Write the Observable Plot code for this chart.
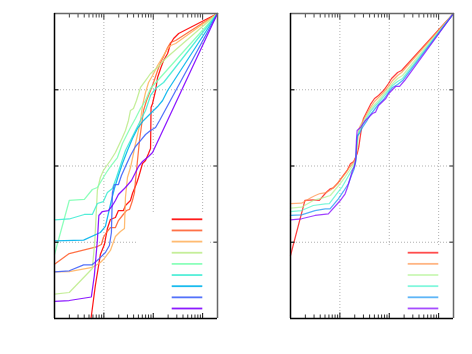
<!DOCTYPE html>
<html><head><meta charset="utf-8">
<script src="https://cdn.jsdelivr.net/npm/d3@7"></script>
<script src="https://cdn.jsdelivr.net/npm/@observablehq/plot@0.6"></script>
<style>
body{margin:0;background:#fff;font-family:"DejaVu Sans",sans-serif;}
#wrap{position:relative;width:472px;height:354px;overflow:hidden;}
.panel{position:absolute;top:0;}
.legend{position:absolute;background:#fff;}
</style></head><body><div id="wrap"></div>
<script>
// ---- data (x on log scale, y linear) ----
const xDomain = [1, 2000];
const yDomain = [0, 4];
const majorX = [10, 100, 1000];
const minorX = [2,3,4,5,6,7,8,9,20,30,40,50,60,70,80,90,200,300,400,500,600,700,800,900];
const yTicks = [1, 2, 3];

const leftColors = ["#ff0000","#ff6232","#ffb462","#bfec8e","#80ffb4","#40ecd4","#00b4ec","#4062fa","#8000ff"];
const rightColors = ["#ff0000","#ff964f","#b3f396","#4df3ce","#1a96f3","#8000ff"];

const leftRed = [[5.49,0],[6.72,0.433],[8.49,0.839],[10.24,0.970],[11.78,1.180],[13.56,1.298],[17.13,1.325],[19.71,1.416],[24.91,1.416],[27.35,1.482],[34.56,1.548],[37.95,1.639],[45.78,1.770],[50.26,1.849],[55.2,1.941],[60.61,2.033],[69.75,2.072],[80.26,2.164],[88.13,2.230],[90.22,2.767],[96.79,2.820],[111.4,2.990],[122.3,3.161],[140.8,3.279],[162,3.384],[195.3,3.475],[224.7,3.607],[258.6,3.672],[326.8,3.738],[2000,4]];
const leftTomato = [[1,0.712],[1.99,0.852],[7.38,0.944],[8.90,0.970],[9.77,1.062],[11.24,1.128],[13.56,1.193],[17.13,1.193],[19.71,1.285],[23.77,1.351],[28.66,1.416],[32.98,1.430],[37.95,1.548],[41.68,1.652],[43.67,1.810],[47.97,2.072],[52.67,2.334],[57.84,2.531],[63.51,2.728],[73.09,2.859],[88.13,2.990],[101.4,3.095],[122.3,3.252],[140.8,3.357],[162,3.436],[195.3,3.554],[224.7,3.620],[284,3.646],[2000,4]];
const leftOrange = [[1,0.612],[1.99,0.616],[5.84,0.669],[8.49,0.734],[10.24,0.787],[13.56,0.892],[17.13,1.075],[21.64,1.141],[26.10,1.180],[27.35,1.587],[30.03,1.849],[34.56,1.980],[39.77,2.164],[43.67,2.295],[50.26,2.466],[55.2,2.597],[60.61,2.793],[69.75,2.964],[80.26,3.095],[96.79,3.187],[122.3,3.318],[140.8,3.384],[195.3,3.541],[224.7,3.580],[284,3.607],[2000,4]];
const leftPaleGreen = [[1,0.319],[1.99,0.341],[5.84,0.656],[6.56,1.023],[7.38,1.679],[8.49,1.849],[9.77,1.941],[13.56,2.072],[17.13,2.177],[23.77,2.374],[27.35,2.466],[31.47,2.597],[34.56,2.728],[39.77,2.754],[45.78,2.859],[55.2,3.030],[69.75,3.121],[88.13,3.213],[122.3,3.292],[177.8,3.410],[2000,4]];
const leftMint = [[1,0.839],[1.99,1.548],[4.02,1.561],[5.84,1.692],[7.38,1.718],[9.77,1.849],[11.24,1.915],[13.56,1.993],[18.81,2.111],[23.77,2.295],[30.03,2.426],[34.56,2.505],[43.67,2.623],[55.2,2.754],[69.75,2.859],[88.13,3.016],[2000,4]];
const leftAqua = [[1,1.294],[1.99,1.305],[4.02,1.364],[5.84,1.364],[7.38,1.508],[9.77,1.534],[11.78,1.652],[14.89,1.705],[17.95,1.849],[21.64,2.007],[27.35,2.203],[34.56,2.334],[43.67,2.466],[55.2,2.597],[69.75,2.728],[88.13,2.925],[111.4,3.016],[162,3.095],[2000,4]];
const leftSky = [[1,1.019],[3.89,1.027],[8.49,1.128],[10.73,1.207],[12.35,1.377],[14.21,1.548],[16.35,1.705],[19.71,1.875],[23.77,2.033],[30.03,2.203],[37.95,2.361],[47.97,2.492],[63.51,2.597],[88.13,2.689],[122.3,2.780],[154.5,2.859],[195.3,2.990],[2000,4]];
const leftBlue = [[1,0.612],[1.99,0.626],[3.89,0.704],[5.76,0.704],[7.84,0.778],[10.73,0.866],[12.94,0.957],[14.21,1.128],[14.89,1.652],[16.35,1.757],[19.71,1.757],[22.68,1.875],[27.35,1.993],[34.56,2.138],[43.67,2.256],[55.2,2.334],[69.75,2.413],[88.13,2.466],[111.4,2.505],[134.3,2.597],[2000,4]];
const leftPurple = [[1,0.223],[1.99,0.236],[5.57,0.282],[6.41,0.564],[7.38,1.023],[7.91,1.351],[9.32,1.403],[12.35,1.416],[14.89,1.482],[17.13,1.548],[19.71,1.626],[23.77,1.679],[27.35,1.718],[36.22,1.810],[43.67,1.915],[50.26,1.993],[60.61,2.059],[80.26,2.125],[96.79,2.177],[2000,4]];

const rightRed = [[1,0.826],[1.96,1.548],[2.89,1.557],[3.83,1.548],[5.32,1.656],[6.41,1.701],[7.38,1.714],[9.32,1.784],[11.08,1.853],[14.01,1.941],[16.35,2.029],[19.08,2.059],[22.37,2.160],[24.11,2.247],[27.35,2.492],[30.03,2.623],[34.56,2.702],[41.68,2.807],[50.26,2.885],[60.61,2.925],[76.58,2.990],[96.79,3.082],[111.4,3.148],[147.5,3.226],[177.8,3.252],[2000,4]];
const rightOrange = [[1,1.508],[1.674,1.512],[2.634,1.587],[3.177,1.613],[3.96,1.639],[5.316,1.652],[6.72,1.692],[8.49,1.757],[10.24,1.823],[12.94,1.902],[15.60,1.980],[18.37,2.033],[20.65,2.098],[22.16,2.203],[23.22,2.400],[24.91,2.505],[28.66,2.584],[34.56,2.675],[41.68,2.767],[50.26,2.846],[60.61,2.898],[76.58,2.964],[96.79,3.043],[116.7,3.121],[147.5,3.187],[177.8,3.226],[2000,4]];
const rightPaleGreen = [[1,1.447],[1.674,1.460],[2.893,1.548],[5.05,1.591],[6.41,1.613],[10.09,1.767],[12.94,1.862],[15.60,1.941],[18.37,2.007],[20.65,2.072],[22.16,2.230],[23.22,2.400],[24.91,2.479],[28.66,2.557],[34.56,2.649],[41.68,2.741],[50.26,2.807],[60.61,2.859],[76.58,2.938],[96.79,3.016],[116.7,3.082],[147.5,3.148],[186.3,3.187],[2000,4]];
const rightAqua = [[1,1.403],[1.674,1.416],[2.893,1.482],[5.074,1.504],[6.117,1.508],[8.61,1.635],[11.24,1.731],[13.56,1.823],[16.35,1.915],[18.81,1.980],[20.65,2.046],[21.64,2.230],[22.68,2.387],[24.91,2.452],[28.66,2.531],[34.56,2.623],[41.68,2.715],[50.26,2.780],[60.61,2.833],[76.58,2.911],[96.79,2.990],[116.7,3.056],[147.5,3.108],[186.3,3.148],[2000,4]];
const rightSky = [[1,1.351],[1.674,1.360],[3.133,1.416],[5.05,1.439],[6.322,1.439],[9.32,1.570],[11.78,1.666],[14.89,1.767],[17.13,1.875],[19.26,1.954],[21.14,2.072],[21.64,2.269],[22.68,2.400],[24.91,2.426],[28.66,2.505],[34.56,2.584],[41.68,2.675],[50.26,2.741],[60.61,2.807],[76.58,2.872],[96.79,2.964],[116.7,3.030],[147.5,3.069],[186.3,3.121],[2000,4]];
const rightPurple = [[1,1.294],[1.674,1.308],[3.133,1.351],[5.838,1.373],[10.09,1.544],[12.76,1.635],[14.21,1.718],[16.35,1.849],[17.95,1.941],[19.71,1.993],[21.14,2.111],[21.64,2.334],[22.37,2.466],[26.10,2.505],[32.98,2.597],[37.95,2.636],[45.78,2.689],[52.67,2.706],[60.61,2.793],[84.14,2.881],[96.79,2.947],[116.7,3.003],[134.3,3.043],[162,3.043],[204.6,3.121],[2000,4]];

const leftSeries = [leftRed, leftTomato, leftOrange, leftPaleGreen, leftMint, leftAqua, leftSky, leftBlue, leftPurple];
const rightSeries = [rightRed, rightOrange, rightPaleGreen, rightAqua, rightSky, rightPurple];

// ---- drawing ----
function panel(series, colors, opacity) {
  const grid = {stroke: "#a8a8a8", strokeOpacity: 1, strokeWidth: 0.9, strokeDasharray: "1,2"};
  return Plot.plot({
    width: 236, height: 354,
    marginLeft: 54, marginRight: 19, marginTop: 13, marginBottom: 36,
    x: {type: "log", domain: xDomain},
    y: {domain: yDomain},
    marks: [
      Plot.gridX(majorX, grid),
      Plot.gridY(yTicks, grid),
      ...series.map((s, i) => Plot.line(s, {x: d => d[0], y: d => d[1], stroke: colors[i], strokeWidth: 1.25, strokeOpacity: opacity})),
      Plot.axisX({anchor: "bottom", ticks: minorX, tickSize: -3.5, tickFormat: () => "", label: null, stroke: "#333"}),
      Plot.axisX({anchor: "top", ticks: minorX, tickSize: -3.5, tickFormat: () => "", label: null, stroke: "#444"}),
      Plot.axisX({anchor: "bottom", ticks: majorX, tickSize: -5.5, tickFormat: () => "", label: null, stroke: "#111"}),
      Plot.axisX({anchor: "top", ticks: majorX, tickSize: -5.5, tickFormat: () => "", label: null, stroke: "#333"}),
      Plot.axisY({anchor: "left", ticks: yTicks, tickSize: -4.5, tickFormat: () => "", label: null, stroke: "#222", strokeWidth: 1.3}),
      Plot.axisY({anchor: "right", ticks: yTicks, tickSize: -4.5, tickFormat: () => "", label: null, stroke: "#666", strokeWidth: 1.5}),
      Plot.ruleX([xDomain[1]], {stroke: "#666", strokeWidth: 1.5}),
      Plot.ruleY([yDomain[1]], {stroke: "#666", strokeWidth: 1.5}),
      Plot.ruleX([xDomain[0]], {stroke: "#000", strokeWidth: 1.5}),
      Plot.ruleY([yDomain[0]], {stroke: "#000", strokeWidth: 1.5})
    ]
  });
}

function legend(colors, opacity, box) {
  const div = document.createElement("div");
  div.className = "legend";
  Object.assign(div.style, {left: box.left + "px", top: box.top + "px", width: box.width + "px", height: box.height + "px"});
  const svg = d3.select(div).append("svg").attr("width", box.width).attr("height", box.height);
  colors.forEach((c, i) => {
    svg.append("line")
      .attr("x1", box.lineX0).attr("x2", box.lineX1)
      .attr("y1", box.y0 + i * 11.15).attr("y2", box.y0 + i * 11.15)
      .attr("stroke", c).attr("stroke-opacity", opacity).attr("stroke-width", 1.8);
  });
  return div;
}

const wrap = document.getElementById("wrap");
const p1 = panel(leftSeries, leftColors, 0.9);
p1.classList.add("panel"); p1.style.left = "0px";
const p2 = panel(rightSeries, rightColors, 0.75);
p2.classList.add("panel"); p2.style.left = "236px";
wrap.appendChild(p1);
wrap.appendChild(p2);
wrap.appendChild(legend(leftColors, 0.9, {left: 138, top: 213, width: 71, height: 100, lineX0: 33.7, lineX1: 64.3, y0: 6.3}));
wrap.appendChild(legend(rightColors, 0.7, {left: 374, top: 247, width: 71, height: 66, lineX0: 33.7, lineX1: 64.3, y0: 5.7}));
</script></body></html>
